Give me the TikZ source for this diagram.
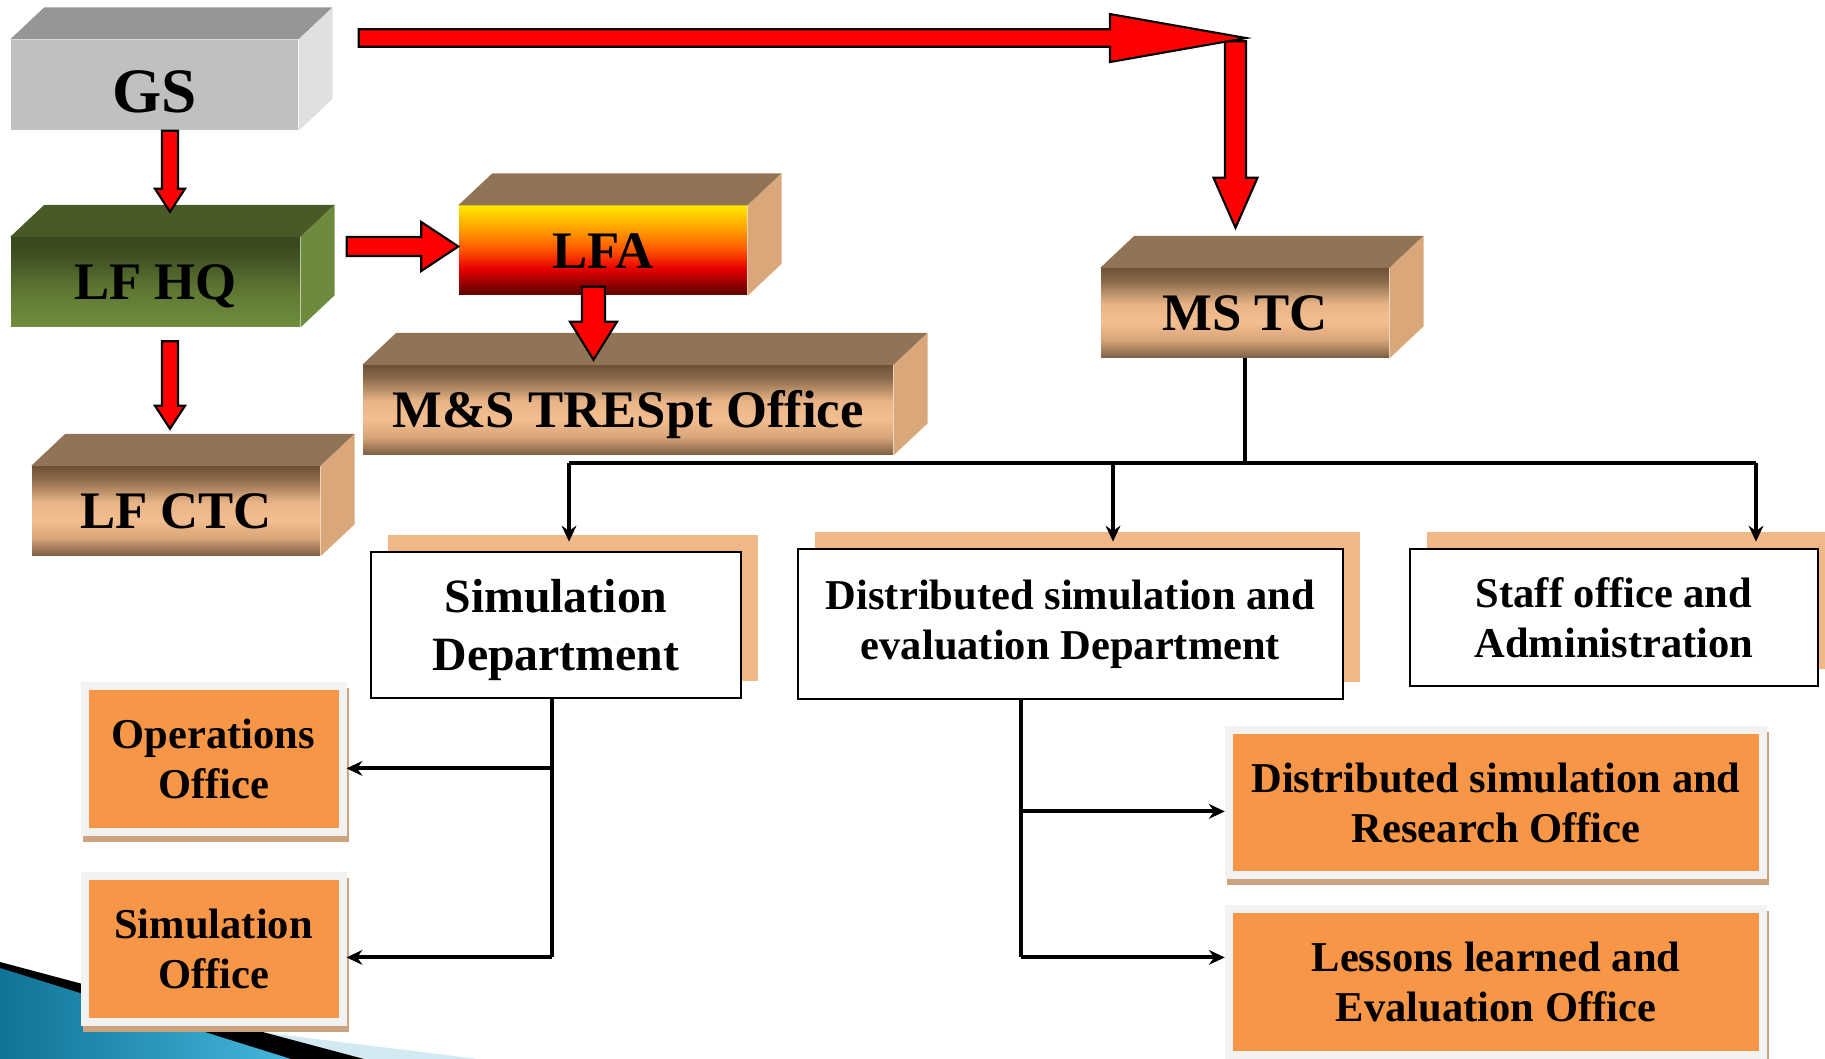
\documentclass[tikz,border=0pt]{standalone}
\usepackage{fontspec}
\setmainfont{Liberation Serif}
\usetikzlibrary{calc,arrows.meta,shadows}

\definecolor{gsfront}{HTML}{C0C0C0}
\definecolor{gstop}{HTML}{969696}
\definecolor{gsside}{HTML}{E0E0E0}
\definecolor{hqtop}{HTML}{4A5A26}
\definecolor{hqside}{HTML}{6E8B3D}
\definecolor{hqA}{HTML}{718E3E}
\definecolor{hqB}{HTML}{5E7833}
\definecolor{hqC}{HTML}{4A5E28}
\definecolor{hqD}{HTML}{39491D}
\definecolor{brtop}{HTML}{907455}
\definecolor{brside}{HTML}{D9A77A}
\definecolor{brA}{HTML}{7D5F44}
\definecolor{brB}{HTML}{D9A67A}
\definecolor{brC}{HTML}{F3BE8F}
\definecolor{brD}{HTML}{E8B487}
\definecolor{brE}{HTML}{8A6A4A}
\definecolor{brF}{HTML}{6E5239}
\definecolor{lfaA}{HTML}{6B0000}
\definecolor{lfaB}{HTML}{E80000}
\definecolor{lfaC}{HTML}{FF5200}
\definecolor{lfaD}{HTML}{FFA000}
\definecolor{lfaE}{HTML}{FFE600}
\definecolor{peach}{HTML}{F0B788}
\definecolor{offorange}{HTML}{F79646}
\definecolor{offborder}{HTML}{F2F2F2}
\definecolor{offshadow}{HTML}{CDA37F}
\definecolor{swdark}{HTML}{0F7396}
\definecolor{swlight}{HTML}{45B6DE}
\definecolor{swpale}{HTML}{D3E9F1}

\pgfdeclareverticalshading{hqface}{100bp}{color(0bp)=(hqA); color(25bp)=(hqA); color(45bp)=(hqB); color(58bp)=(hqC); color(70bp)=(hqD); color(75bp)=(hqD); color(100bp)=(hqD)}
\pgfdeclareverticalshading{brownface}{100bp}{color(0bp)=(brA); color(25bp)=(brA); color(35bp)=(brB); color(45bp)=(brC); color(55bp)=(brD); color(68bp)=(brE); color(75bp)=(brF); color(100bp)=(brF)}
\pgfdeclareverticalshading{lfaface}{100bp}{color(0bp)=(lfaA); color(27bp)=(lfaA); color(40bp)=(lfaB); color(50bp)=(lfaC); color(62bp)=(lfaD); color(75bp)=(lfaE); color(100bp)=(lfaE)}

% box with top and side faces: name, centre, width, front style, top, side, text
\newcommand{\solidbox}[7]{%
  \node[box3d, #4, minimum width=#3] (#1) at (#2) {#7};
  \fill[#5] (#1.north west) -- ++(34,-32) -- ($(#1.north east)+(34,-32)$) -- (#1.north east) -- cycle;
  \fill[#6] (#1.north east) -- ++(34,-32) -- ($(#1.south east)+(34,-32)$) -- (#1.south east) -- cycle;}

% red block arrows: start, tip, half bar, half head, head length
\newcommand{\downblock}[5]{%
  \draw[blockarr] ($(#1)+(-#3,0)$) -- ($(#1|-#2)+(-#3,-#5)$) -- ($(#1|-#2)+(-#4,-#5)$) -- (#1|-#2)
    -- ($(#1|-#2)+(#4,-#5)$) -- ($(#1|-#2)+(#3,-#5)$) -- ($(#1)+(#3,0)$) -- cycle;}
\newcommand{\rightblock}[5]{%
  \draw[blockarr] ($(#1)+(0,-#3)$) -- ($(#2|-#1)+(-#5,-#3)$) -- ($(#2|-#1)+(-#5,-#4)$) -- (#2|-#1)
    -- ($(#2|-#1)+(-#5,#4)$) -- ($(#2|-#1)+(-#5,#3)$) -- ($(#1)+(0,#3)$) -- cycle;}

\begin{document}
\begin{tikzpicture}[x=0.1mm,y=-0.1mm,
  every node/.style={inner sep=0pt, align=center},
  box3d/.style={minimum height=8.9mm, text height=10.2pt, text depth=0pt, font=\bfseries\fontsize{15}{18}\selectfont},
  deptbox/.style={draw=black, line width=0.8pt, fill=white,
    font=\bfseries\fontsize{12.1}{14.2}\selectfont,
    general shadow={fill=peach, draw=none, shadow xshift=1.7mm, shadow yshift=1.7mm}},
  officebox/.style={fill=offorange, draw=offborder, line width=0.8mm,
    font=\bfseries\fontsize{12.1}{14.2}\selectfont,
    general shadow={fill=offshadow, draw=offshadow, line width=0.8mm, shadow xshift=0.2mm, shadow yshift=-0.6mm}},
  blockarr/.style={fill=red, draw=black, line width=0.6pt, line join=miter},
  conn/.style={line width=1.1pt},
  arr/.style={conn, -{Stealth[length=4.5pt,width=4.2pt]}}]
\useasboundingbox (0,0) rectangle (1825,1059);

% corner decoration
\fill[swpale] (0,1000) -- (478,1059) -- (0,1059) -- cycle;
\fill[black] (0,962) -- (364,1059) -- (0,1059) -- cycle;
\shade[left color=swdark, right color=swlight] (0,968) -- (291,1059) -- (0,1059) -- cycle;

\solidbox{gs}{154.5,85}{28.7mm}{fill=gsfront, minimum height=9mm, text height=15.4pt, font=\bfseries\fontsize{18}{21}\selectfont}{gstop}{gsside}{GS}
\solidbox{lfhq}{155.5,282}{28.9mm}{shade, shading=hqface}{hqtop}{hqside}{LF HQ}
\solidbox{lfa}{603,250.5}{28.8mm}{shade, shading=lfaface}{brtop}{brside}{LFA}
\solidbox{mands}{628,410}{53mm}{shade, shading=brownface}{brtop}{brside}{M\&S TRESpt Office}
\solidbox{lfctc}{176,511}{28.8mm}{shade, shading=brownface}{brtop}{brside}{LF CTC}
\solidbox{mstc}{1245,313}{28.8mm}{shade, shading=brownface}{brtop}{brside}{MS TC}

\coordinate (gsbar) at ($(gs.north east)+(60,-1.25)$);
\coordinate (bend) at (1246,38.75);
\coordinate (bendv) at ($(bend)+(-10.5,2.5)$);
\coordinate (mstcin) at ($(mstc.north)+(-9.5,-40)$);
\downblock{bendv}{mstcin}{10.5}{22}{50}
\rightblock{gsbar}{bend}{8.75}{24}{136}

\coordinate (gsout) at ($(gs.south)+(15.5,0)$);
\coordinate (hqin) at ($(lfhq.north)+(14.5,-25)$);
\downblock{gsout}{hqin}{8}{15}{23}
\coordinate (hqright) at ($(lfhq.east)+(46,-35.5)$);
\coordinate (lfain) at (lfa.west |- hqright);
\rightblock{hqright}{lfain}{9.5}{24.5}{37}
\coordinate (lfaout) at ($(lfa.south)+(-9.5,-9)$);
\coordinate (mandsin) at ($(mands.north)+(-34.5,-5)$);
\downblock{lfaout}{mandsin}{11.5}{23.5}{38}
\coordinate (hqout) at ($(lfhq.south)+(14.5,14)$);
\coordinate (ctcin) at ($(lfctc.north)+(-6,-37)$);
\downblock{hqout}{ctcin}{8}{15}{23}

\node[deptbox, minimum width=37mm, minimum height=14.6mm, text depth=0pt, font=\bfseries\fontsize{13.6}{16.5}\selectfont] (simdept) at (556,625) {Simulation\\Department};
\node[deptbox, minimum width=54.5mm, minimum height=15mm] (distdept) at (1070.5,624) {Distributed simulation and\\evaluation Department};
\node[deptbox, minimum width=40.8mm, minimum height=13.7mm] (staff) at (1614,617.5) {Staff office and\\Administration};

\node[officebox, minimum width=25.8mm, minimum height=14.65mm] (ops) at (213.5,759) {Operations\\Office};
\node[officebox, minimum width=25.8mm, minimum height=14.65mm] (simoff) at (213.5,949) {Simulation\\Office};
\node[officebox, minimum width=53.45mm, minimum height=14.5mm] (research) at (1496,802.5) {Distributed simulation and\\Research Office};
\node[officebox, minimum width=53.45mm, minimum height=14.6mm] (lessons) at (1496,982) {Lessons learned and\\Evaluation Office};

\coordinate (busL) at (569,463);
\coordinate (busM) at (1113,463);
\coordinate (busR) at (1756,463);
\draw[conn] (mstc.south) -- (mstc.south |- busL);
\draw[conn] (busL) -- (busR);
\draw[arr] (busL) -- ($(busL |- simdept.north)+(0,-9)$);
\draw[arr] (busM) -- ($(busM |- distdept.north)+(0,-6)$);
\draw[arr] (busR) -- ($(busR |- staff.north)+(0,-6)$);

\draw[conn] ($(simdept.south)+(-4,0)$) -- ++(0,258) coordinate (simbot);
\draw[arr] (simbot) -- (simbot -| simoff.east);
\draw[arr] ($(simbot)+(0,-189)$) coordinate (opsbr) -- (opsbr -| ops.east);
\draw[conn] ($(distdept.south)+(-49.5,0)$) -- ++(0,257) coordinate (distbot);
\draw[arr] (distbot) -- (distbot -| lessons.west);
\draw[arr] ($(distbot)+(0,-146)$) coordinate (resbr) -- (resbr -| research.west);
\end{tikzpicture}
\end{document}
